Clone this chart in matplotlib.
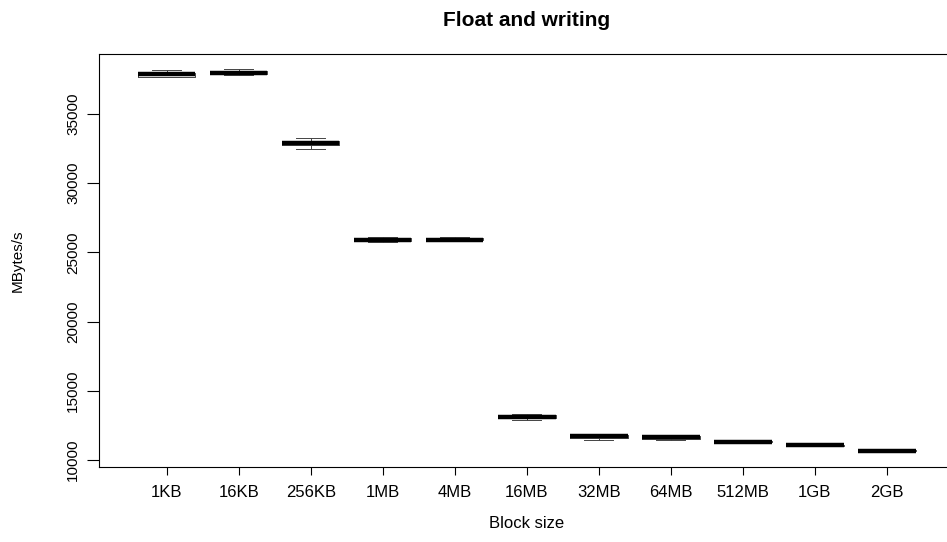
import numpy as np
import matplotlib.pyplot as plt

plt.rcParams['font.family'] = ['Liberation Sans', 'DejaVu Sans']

# write throughput per block size (MBytes/s): five-number summaries
blocks = ['1KB', '16KB', '256KB', '1MB', '4MB', '16MB', '32MB', '64MB', '512MB', '1GB', '2GB']
whislo = [37630, 37800, 32460, 25740, 25850, 12900, 11440, 11480, 11250, 11020, 10610]
q1     = [37680, 37850, 32715, 25800, 25880, 13020, 11600, 11550, 11290, 11050, 10640]
med    = [37850, 37960, 32890, 25920, 25900, 13130, 11730, 11660, 11320, 11080, 10670]
q3     = [37950, 38050, 33054, 26020, 26050, 13250, 11800, 11760, 11360, 11110, 10700]
whishi = [38180, 38200, 33222, 26120, 26100, 13330, 11920, 11830, 11390, 11140, 10730]
yticks = [10000, 15000, 20000, 25000, 30000, 35000]

stats = []
for i in range(len(blocks)):
    stats.append({'whislo': whislo[i], 'q1': q1[i], 'med': med[i],
                  'q3': q3[i], 'whishi': whishi[i], 'label': blocks[i]})

fig = plt.figure(figsize=(9.47, 5.42), dpi=100)
ax = fig.add_axes([99/947, 1-467/542, 855.4/947, 413/542])

pos = np.arange(1, len(blocks)+1)
thin = dict(color='#444444', lw=0.7)
ax.bxp(stats, positions=pos, widths=0.8, showfliers=False,
       boxprops=thin, whiskerprops=thin, capprops=thin,
       medianprops=dict(color='black', lw=3.2, solid_capstyle='butt'))

# R-like axis ranges: 4% padding around the data
lo, hi = min(whislo), max(whishi)
pad = 0.04*(hi-lo)
ax.set_ylim(lo-pad, hi+pad)
ax.set_xlim(0.5-0.44, len(blocks)+0.5+0.44)

ax.set_yticks(yticks)
ax.set_yticklabels([str(v) for v in yticks], rotation=90, va='center')
ax.set_xticks(pos)
ax.set_xticklabels(blocks)

ax.tick_params(axis='x', length=6, width=0.8, pad=7, labelsize=12)
ax.tick_params(axis='y', length=8.5, width=0.8, pad=5, labelsize=11)
for s in ax.spines.values():
    s.set_linewidth(0.8)
    s.set_color('black')

ax.set_xlabel('Block size', fontsize=12)
ax.xaxis.set_label_coords(0.5, (467-523)/413)
ax.xaxis.label.set_va('center')
ax.set_ylabel('MBytes/s', fontsize=11)
ax.yaxis.set_label_coords((18-99)/855.4, 0.5)
ax.yaxis.label.set_va('center')

fig.text(526.5/947, 1-20/542, 'Float and writing', ha='center', va='center',
         fontsize=15, fontweight='bold')

fig.savefig('out.png', dpi=100)
